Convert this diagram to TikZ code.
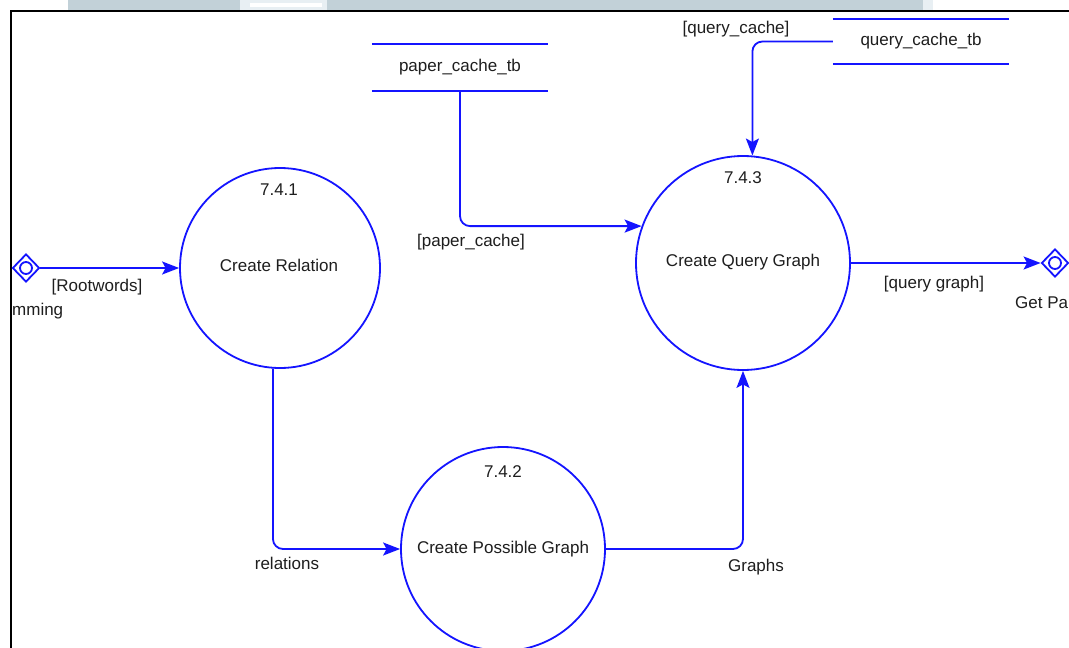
\documentclass[tikz,border=0pt]{standalone}
\usepackage{fontspec}
\setmainfont{Liberation Sans}
\usetikzlibrary{arrows.meta,shapes.geometric}
\definecolor{dfdblue}{RGB}{20,20,255}
\definecolor{bandgray}{RGB}{194,209,216}
\definecolor{bandlight}{RGB}{232,239,243}
\definecolor{txt}{RGB}{30,30,30}
\begin{document}
\begin{tikzpicture}[x=1pt,y=-1pt,
  proc/.style={circle,draw=dfdblue,line width=1.8pt,inner sep=0pt},
  lbl/.style={text=txt,font=\fontsize{17}{20}\selectfont,inner sep=0pt},
  store/.style={minimum width=176pt,inner sep=0pt,text=txt,font=\fontsize{17}{20}\selectfont},
  storeline/.style={draw=dfdblue,line width=1.8pt},
  flow/.style={draw=dfdblue,line width=1.8pt,rounded corners=10pt,-{Stealth[length=17pt,width=13pt,inset=3.5pt]}},
  term/.style={diamond,draw=dfdblue,line width=1.8pt,minimum width=27pt,minimum height=28pt,inner sep=0pt},
  termin/.style={circle,draw=dfdblue,line width=1.8pt,minimum size=12pt,inner sep=0pt}]
\useasboundingbox (0,0) rectangle (1069,648);
\fill[white] (0,0) rectangle (1069,648);
% top band and frame
\fill[bandgray] (68,0) rectangle (923,10);
\fill[bandlight] (240,0) rectangle (327,10);
\fill[white] (250,3) rectangle (322,7);
\fill[bandlight] (923,0) rectangle (933,10);
\draw[black,line width=2pt] (1069,11) -- (11,11) -- (11,648);

% processes
\node[proc,minimum size=200pt] (p741) at (280,268) {};
\node[lbl] (n741) at (279,190) {7.4.1};
\node[lbl] (t741) at (279,265) {Create Relation};

\node[proc,minimum size=214pt] (p743) at (743,263) {};
\node[lbl] (n743) at (743,178) {7.4.3};
\node[lbl] (t743) at (743,262) {Create Query Graph};

\node[proc,minimum size=204pt] (p742) at (503,549) {};
\node[lbl] (n742) at (503,472) {7.4.2};
\node[lbl] (t742) at (503,549) {Create Possible Graph};

% data stores
\node[store,minimum height=47pt] (pct) at (460,67.5) {paper\_cache\_tb};
\draw[storeline] (pct.north west) -- (pct.north east);
\draw[storeline] (pct.south west) -- (pct.south east);
\node[store,minimum height=45pt] (qct) at (921,41.5) {query\_cache\_tb};
\draw[storeline] (qct.north west) -- (qct.north east);
\draw[storeline] (qct.south west) -- (qct.south east);

% terminators
\node[term] (dl) at (26,268) {};
\node[termin] (dlc) at (dl) {};
\node[term] (dr) at (1055,263) {};
\node[termin] (drc) at (dr) {};

% flows
\draw[flow] (dl.east) -- (p741.west);
\draw[flow] (p743.east) -- (dr.west);
\draw[flow] (pct.south) |- (p743.160.4);
\draw[flow] (qct.west) -| (p743.85.2);
\draw[flow] (p741.266.6) |- (p742.west);
\draw[flow] (p742.east) -| (p743.south);

% flow labels
\node[lbl] (lroot) at (97,287) {[Rootwords]};
\node[lbl,anchor=west] (lstem) at (12,311) {mming};
\node[lbl] (lqg) at (934,284) {[query graph]};
\node[lbl,anchor=west] (lget) at (1015,303) {Get Pa};
\node[lbl] (lpc) at (471,242) {[paper\_cache]};
\node[lbl] (lqc) at (736,29) {[query\_cache]};
\node[lbl] (lrel) at (287,563) {relations};
\node[lbl] (lgr) at (756,567) {Graphs};
\end{tikzpicture}
\end{document}
